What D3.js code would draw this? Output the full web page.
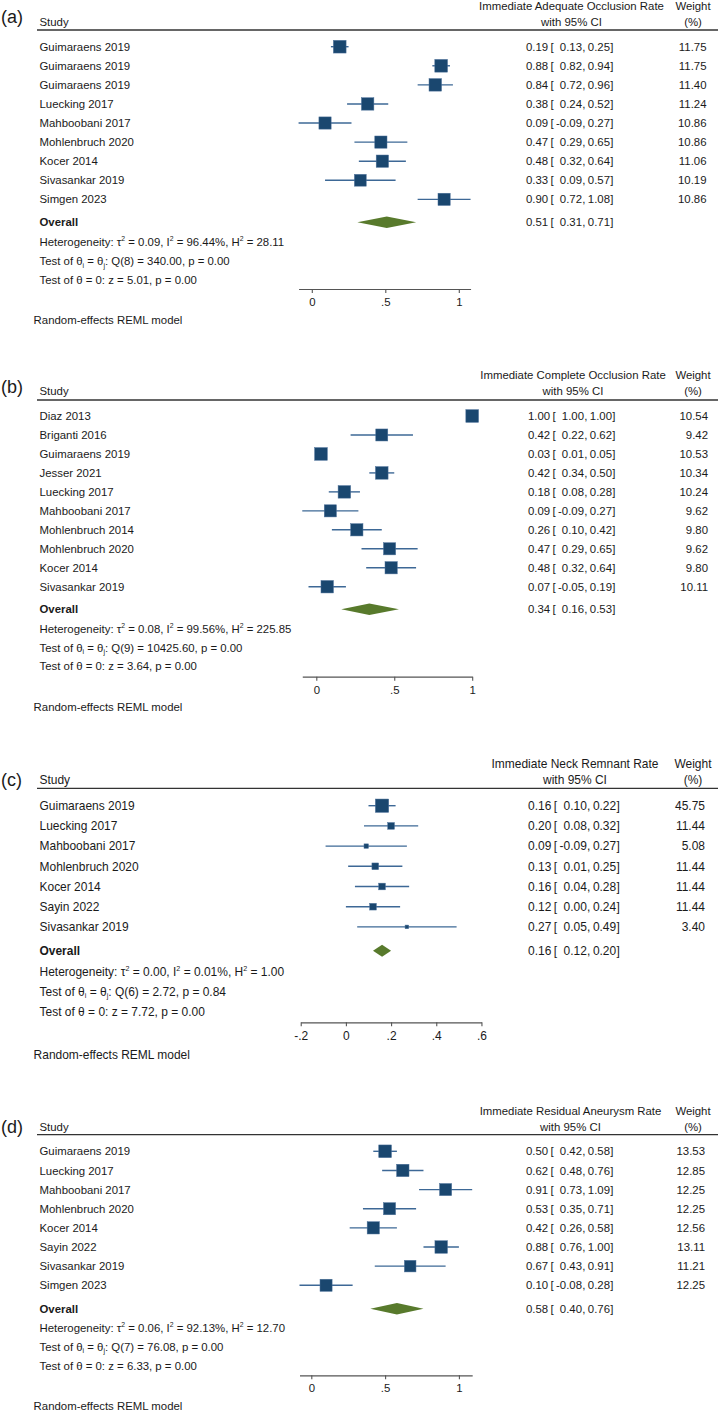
<!DOCTYPE html>
<html><head><meta charset="utf-8">
<script src="https://cdn.jsdelivr.net/npm/d3@7"></script>
<style>
body{margin:0;background:#fff}
svg{display:block}
text{font-family:"Liberation Sans",Arial,sans-serif;fill:#1a1a1a}
</style>
</head><body>
<svg id="chart" width="721" height="1412"></svg>
<script>
// ---------- Panel (a) ----------
const outcomeA = "Immediate Adequate Occlusion Rate";
const studiesA = ["Guimaraens 2019","Guimaraens 2019","Guimaraens 2019","Luecking 2017","Mahboobani 2017","Mohlenbruch 2020","Kocer 2014","Sivasankar 2019","Simgen 2023"];
const estA = [0.19,0.88,0.84,0.38,0.09,0.47,0.48,0.33,0.90];
const loA  = [0.13,0.82,0.72,0.24,-0.09,0.29,0.32,0.09,0.72];
const hiA  = [0.25,0.94,0.96,0.52,0.27,0.65,0.64,0.57,1.08];
const weightA = [11.75,11.75,11.40,11.24,10.86,10.86,11.06,10.19,10.86];
const overallA = [0.51,0.31,0.71];
const hetA = ["0.09","96.44%","28.11"];
const qA = ["8","340.00","0.00"];
const zA = ["5.01","0.00"];
const ticksA = [0,0.5,1];
const tickLabelsA = ["0",".5","1"];

// ---------- Panel (b) ----------
const outcomeB = "Immediate Complete Occlusion Rate";
const studiesB = ["Diaz 2013","Briganti 2016","Guimaraens 2019","Jesser 2021","Luecking 2017","Mahboobani 2017","Mohlenbruch 2014","Mohlenbruch 2020","Kocer 2014","Sivasankar 2019"];
const estB = [1.00,0.42,0.03,0.42,0.18,0.09,0.26,0.47,0.48,0.07];
const loB  = [1.00,0.22,0.01,0.34,0.08,-0.09,0.10,0.29,0.32,-0.05];
const hiB  = [1.00,0.62,0.05,0.50,0.28,0.27,0.42,0.65,0.64,0.19];
const weightB = [10.54,9.42,10.53,10.34,10.24,9.62,9.80,9.62,9.80,10.11];
const overallB = [0.34,0.16,0.53];
const hetB = ["0.08","99.56%","225.85"];
const qB = ["9","10425.60","0.00"];
const zB = ["3.64","0.00"];
const ticksB = [0,0.5,1];
const tickLabelsB = ["0",".5","1"];

// ---------- Panel (c) ----------
const outcomeC = "Immediate Neck Remnant Rate";
const studiesC = ["Guimaraens 2019","Luecking 2017","Mahboobani 2017","Mohlenbruch 2020","Kocer 2014","Sayin 2022","Sivasankar 2019"];
const estC = [0.16,0.20,0.09,0.13,0.16,0.12,0.27];
const loC  = [0.10,0.08,-0.09,0.01,0.04,0.00,0.05];
const hiC  = [0.22,0.32,0.27,0.25,0.28,0.24,0.49];
const weightC = [45.75,11.44,5.08,11.44,11.44,11.44,3.40];
const overallC = [0.16,0.12,0.20];
const hetC = ["0.00","0.01%","1.00"];
const qC = ["6","2.72","0.84"];
const zC = ["7.72","0.00"];
const ticksC = [-0.2,0,0.2,0.4,0.6];
const tickLabelsC = ["-.2","0",".2",".4",".6"];

// ---------- Panel (d) ----------
const outcomeD = "Immediate Residual Aneurysm Rate";
const studiesD = ["Guimaraens 2019","Luecking 2017","Mahboobani 2017","Mohlenbruch 2020","Kocer 2014","Sayin 2022","Sivasankar 2019","Simgen 2023"];
const estD = [0.50,0.62,0.91,0.53,0.42,0.88,0.67,0.10];
const loD  = [0.42,0.48,0.73,0.35,0.26,0.76,0.43,-0.08];
const hiD  = [0.58,0.76,1.09,0.71,0.58,1.00,0.91,0.28];
const weightD = [13.53,12.85,12.25,12.25,12.56,13.11,11.21,12.25];
const overallD = [0.58,0.40,0.76];
const hetD = ["0.06","92.13%","12.70"];
const qD = ["7","76.08","0.00"];
const zD = ["6.33","0.00"];
const ticksD = [0,0.5,1];
const tickLabelsD = ["0",".5","1"];

// ---------- layout (positions only) ----------
const layouts = [
  {lab:"(a)", s:1, x0:311.8, x1:458.8, col:526, wr:706.5, hc:571.5,
   y:{lab:18,h1:6,h2:22,rule:30,row0:46.7,step:19.08,ov:222.3,het:242.3,t1:261.2,t2:280.2,axis:289,re:320}},
  {lab:"(b)", s:1, x0:316.3, x1:472.2, col:528, wr:708, hc:573,
   y:{lab:388.3,h1:375.3,h2:391,rule:400,row0:416,step:18.97,ov:609.3,het:628.7,t1:647.7,t2:666.3,axis:676.7,re:706.7}},
  {lab:"(c)", s:1.05, x0:345.9, x1:571.8, col:528, wr:705, hc:575,
   y:{lab:781.7,h1:763.3,h2:779.3,rule:788.3,row0:805.7,step:20.2,ov:950.7,het:971.7,t1:991.7,t2:1011.7,axis:1022.3,re:1054.5}},
  {lab:"(d)", s:1, x0:311.3, x1:458.9, col:526, wr:705, hc:570.5,
   y:{lab:1128.7,h1:1111.3,h2:1127,rule:1134.7,row0:1151.3,step:19.14,ov:1308.7,het:1327.7,t1:1346.7,t2:1365.7,axis:1375.3,re:1406.3}}
];

const panels = [
  {outcome:outcomeA, studies:studiesA, est:estA, lo:loA, hi:hiA, w:weightA, ov:overallA, het:hetA, q:qA, z:zA, ticks:ticksA, tl:tickLabelsA},
  {outcome:outcomeB, studies:studiesB, est:estB, lo:loB, hi:hiB, w:weightB, ov:overallB, het:hetB, q:qB, z:zB, ticks:ticksB, tl:tickLabelsB},
  {outcome:outcomeC, studies:studiesC, est:estC, lo:loC, hi:hiC, w:weightC, ov:overallC, het:hetC, q:qC, z:zC, ticks:ticksC, tl:tickLabelsC},
  {outcome:outcomeD, studies:studiesD, est:estD, lo:loD, hi:hiD, w:weightD, ov:overallD, het:hetD, q:qD, z:zD, ticks:ticksD, tl:tickLabelsD}
];

const svg = d3.select("#chart");
const SQ = "#1a476f", CI = "#3d6896", DIA = "#587a2c";
const f2 = v => v.toFixed(2);

function drawPanel(D, L) {
  const g = svg.append("g");
  const s = L.s, fs = 11.4 * s, Y = L.y;
  const base = yc => yc + 0.36 * fs;
  const T = (x, yc, str, anchor, size) =>
    g.append("text").attr("x", x).attr("y", base(yc)).attr("text-anchor", anchor || "start")
      .attr("font-size", size || fs).text(str);

  const x = d3.scaleLinear().domain([0, 1]).range([L.x0, L.x1]);
  const yRow = d3.scaleLinear().domain([0, 1]).range([Y.row0, Y.row0 + Y.step]);
  const sq = d3.scaleSqrt().domain([0, d3.max(D.w)]).range([0, 12.7 * s]);
  const sx = 39.5;

  // panel label
  g.append("text").attr("x", 1).attr("y", Y.lab + 0.26 * 18).attr("font-size", 18).text(L.lab);

  // headers
  T(sx, Y.h2, "Study");
  T(L.hc, Y.h1, D.outcome, "middle");
  T(L.hc, Y.h2, "with 95% CI", "middle");
  T(693, Y.h1, "Weight", "middle");
  T(693, Y.h2, "(%)", "middle");
  g.append("line").attr("x1", 37).attr("x2", 718).attr("y1", Y.rule).attr("y2", Y.rule)
    .attr("stroke", "#333").attr("stroke-width", 1.3);

  // study rows
  const rows = g.selectAll("g.row").data(D.studies.map((n, i) => i)).enter().append("g").attr("class", "row");
  rows.append("line")
    .attr("x1", i => x(D.lo[i])).attr("x2", i => x(D.hi[i]))
    .attr("y1", i => yRow(i)).attr("y2", i => yRow(i))
    .attr("stroke", CI).attr("stroke-width", 1.4);
  rows.append("rect")
    .attr("x", i => x(D.est[i]) - sq(D.w[i]) / 2)
    .attr("y", i => yRow(i) - sq(D.w[i]) / 2)
    .attr("width", i => sq(D.w[i])).attr("height", i => sq(D.w[i]))
    .attr("fill", SQ).attr("stroke", "#4d7199").attr("stroke-width", 0.5);

  const off = k => L.col + k * s;
  function valueCells(yc, e, lo, hi) {
    T(off(0), yc, f2(e), "start");
    T(off(24.5), yc, "[", "start");
    T(off(56), yc, f2(lo), "end");
    T(off(56.3), yc, ",", "start");
    T(off(84), yc, f2(hi), "end");
    T(off(84.3), yc, "]", "start");
  }
  D.studies.forEach((n, i) => {
    const yc = yRow(i);
    T(sx, yc, n);
    valueCells(yc, D.est[i], D.lo[i], D.hi[i]);
    T(L.wr, yc, f2(D.w[i]), "end");
  });

  // overall
  g.append("text").attr("x", sx).attr("y", base(Y.ov)).attr("font-size", fs)
    .attr("font-weight", "bold").text("Overall");
  const hh = 5.7 * s;
  g.append("path")
    .attr("d", `M${x(D.ov[1])},${Y.ov} L${x(D.ov[0])},${Y.ov - hh} L${x(D.ov[2])},${Y.ov} L${x(D.ov[0])},${Y.ov + hh} Z`)
    .attr("fill", DIA);
  valueCells(Y.ov, D.ov[0], D.ov[1], D.ov[2]);

  // statistics
  const sup = (t, str) => { t.append("tspan").attr("font-size", fs * 0.6).attr("dy", -fs * 0.45).text(str);
                            return t.append("tspan").attr("dy", fs * 0.45); };
  const sub = (t, str) => { t.append("tspan").attr("font-size", fs * 0.6).attr("dy", fs * 0.2).text(str);
                            return t.append("tspan").attr("dy", -fs * 0.2); };
  let t = g.append("text").attr("x", sx).attr("y", base(Y.het)).attr("font-size", fs);
  t.append("tspan").text("Heterogeneity: \u03c4");
  sup(t, "2").text(" = " + D.het[0] + ", I");
  sup(t, "2").text(" = " + D.het[1] + ", H");
  sup(t, "2").text(" = " + D.het[2]);

  t = g.append("text").attr("x", sx).attr("y", base(Y.t1)).attr("font-size", fs);
  t.append("tspan").text("Test of \u03b8");
  sub(t, "i").text(" = \u03b8");
  sub(t, "j").text(": Q(" + D.q[0] + ") = " + D.q[1] + ", p = " + D.q[2]);

  T(sx, Y.t2, "Test of \u03b8 = 0: z = " + D.z[0] + ", p = " + D.z[1]);

  // axis
  const dmin = Math.min(d3.min(D.lo), d3.min(D.ticks));
  const dmax = Math.max(d3.max(D.hi), d3.max(D.ticks));
  const xa = x.copy().domain([dmin, dmax]).range([x(dmin), x(dmax)]);
  const ax = g.append("g").attr("transform", `translate(0,${Y.axis})`)
    .call(d3.axisBottom(xa).tickValues(D.ticks).tickFormat((d, i) => D.tl[i])
      .tickSize(4).tickSizeOuter(0).tickPadding(5 * s));
  ax.select(".domain").attr("stroke", "#555").attr("stroke-width", 1.2);
  ax.selectAll(".tick line").attr("stroke", "#555").attr("stroke-width", 1.1);
  ax.selectAll(".tick text").attr("font-size", fs).attr("font-family", '"Liberation Sans",Arial,sans-serif').attr("fill", "#1a1a1a");

  T(33.6, Y.re, "Random-effects REML model");
}

panels.forEach((D, k) => drawPanel(D, layouts[k]));
</script>
</body></html>
